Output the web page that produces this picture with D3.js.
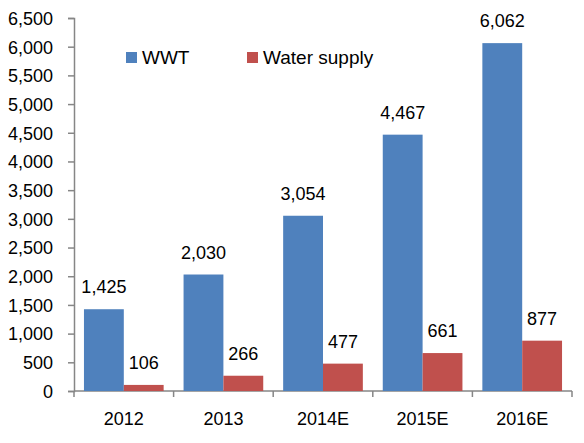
<!DOCTYPE html>
<html>
<head>
<meta charset="utf-8">
<script src="https://cdn.jsdelivr.net/npm/d3@7"></script>
<style>
  body { margin: 0; background: #fff; }
  text { font-family: "Liberation Sans", Arial, sans-serif; fill: #000; }
</style>
</head>
<body>
<svg width="584" height="443"></svg>
<script>
const categories = ["2012", "2013", "2014E", "2015E", "2016E"];
const series = ["WWT", "Water supply"];
const wwt = [1425, 2030, 3054, 4467, 6062];
const waterSupply = [106, 266, 477, 661, 877];
const yTicks = d3.range(0, 6501, 500);
const colors = ["#4F81BD", "#C0504D"];

const svg = d3.select("svg");
const margin = { left: 74, right: 12, top: 18, bottom: 52 };
const width = 584 - margin.left - margin.right;
const height = 443 - margin.top - margin.bottom;

const g = svg.append("g")
  .attr("transform", `translate(${margin.left},${margin.top})`);

const x = d3.scaleBand()
  .domain(categories)
  .range([0, width])
  .paddingInner(0.2)
  .paddingOuter(0.1);

const x1 = d3.scaleBand()
  .domain(series)
  .range([0, x.bandwidth()]);

const y = d3.scaleLinear()
  .domain([0, 6500])
  .range([height, 0]);

const fmt = d3.format(",");
const axisColor = "#868686";

// y axis
const yAxis = g.append("g")
  .call(d3.axisLeft(y).tickValues(yTicks).tickFormat(fmt).tickSize(6).tickPadding(15));
yAxis.select(".domain").attr("stroke", axisColor).attr("stroke-width", 1.5);
yAxis.selectAll(".tick line").attr("stroke", axisColor).attr("stroke-width", 1.5);
yAxis.selectAll(".tick text").style("font-size", "18px").attr("dy", "0.35em");

// x axis with ticks at category boundaries
const step = width / categories.length;
const xAxis = g.append("g")
  .attr("transform", `translate(0,${height})`);
xAxis.append("line")
  .attr("x1", 0).attr("x2", width)
  .attr("stroke", axisColor).attr("stroke-width", 1.5);
xAxis.selectAll(".btick")
  .data(d3.range(categories.length + 1))
  .enter()
  .append("line")
  .attr("class", "btick")
  .attr("x1", d => d * step).attr("x2", d => d * step)
  .attr("y1", 0).attr("y2", 6)
  .attr("stroke", axisColor).attr("stroke-width", 1.5);
xAxis.selectAll(".xlab")
  .data(categories)
  .enter()
  .append("text")
  .attr("class", "xlab")
  .attr("x", d => x(d) + x.bandwidth() / 2)
  .attr("y", 34)
  .attr("text-anchor", "middle")
  .style("font-size", "18px")
  .text(d => d);

// bars
const rows = categories.map((c, i) => ({ cat: c, vals: [wwt[i], waterSupply[i]] }));

const groups = g.selectAll(".grp")
  .data(rows)
  .enter()
  .append("g")
  .attr("class", "grp")
  .attr("transform", d => `translate(${x(d.cat)},0)`);

groups.selectAll("rect")
  .data(d => d.vals.map((v, j) => ({ s: series[j], v: v, j: j })))
  .enter()
  .append("rect")
  .attr("x", d => x1(d.s))
  .attr("width", x1.bandwidth())
  .attr("y", d => y(d.v))
  .attr("height", d => height - y(d.v))
  .attr("fill", d => colors[d.j]);

groups.selectAll(".val")
  .data(d => d.vals.map((v, j) => ({ s: series[j], v: v })))
  .enter()
  .append("text")
  .attr("class", "val")
  .attr("x", d => x1(d.s) + x1.bandwidth() / 2)
  .attr("y", d => y(d.v) - 16)
  .attr("text-anchor", "middle")
  .style("font-size", "18px")
  .text(d => fmt(d.v));

// legend
const legendX = [126, 247];
const legend = svg.selectAll(".leg")
  .data(series)
  .enter()
  .append("g")
  .attr("class", "leg")
  .attr("transform", (d, i) => `translate(${legendX[i]},52)`);
legend.append("rect")
  .attr("width", 11).attr("height", 11)
  .attr("fill", (d, i) => colors[i]);
legend.append("text")
  .attr("x", 16).attr("y", 12)
  .style("font-size", "19px")
  .text(d => d);
</script>
</body>
</html>
